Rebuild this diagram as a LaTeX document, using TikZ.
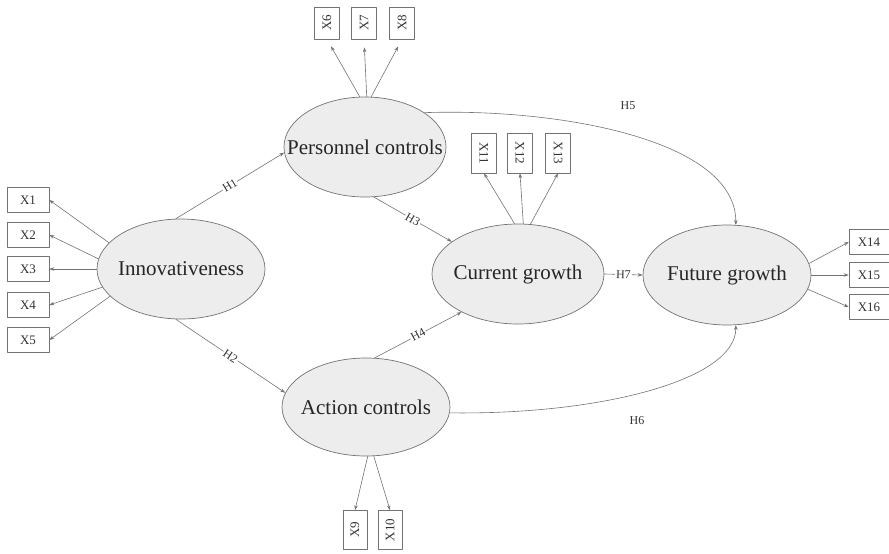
\documentclass[tikz,border=0pt]{standalone}
\usepackage{fontspec}
\setmainfont{Liberation Serif}
\usepackage{graphicx}
\usetikzlibrary{shapes.geometric,arrows.meta}
\begin{document}
\begin{tikzpicture}[x=1pt, y=-1pt, line join=round, line cap=round,
	latent/.style={ellipse, draw=black!55, fill=black!7, line width=0.7pt, inner sep=0pt, minimum width=168pt, minimum height=100pt},
	latname/.style={font=\fontsize{21}{21}\selectfont, text=black!85, inner sep=0pt},
	ind/.style={draw=black!55, fill=white, line width=0.6pt, inner sep=0pt, font=\fontsize{13}{13}\selectfont, text=black!80},
	flat/.style={ind, minimum width=42pt, minimum height=25pt},
	upright/.style={ind, minimum width=25pt, minimum height=32pt},
	link/.style={draw=black!55, line width=0.6pt, -{Stealth[length=5pt,width=3.5pt]}},
	hyp/.style={sloped, fill=white, inner sep=1pt, font=\fontsize{12}{12}\selectfont, text=black!80}]
	\useasboundingbox (0,0) rectangle (889,554);
	
	% latent variables
	\node[latent] (inno) at (181,269) {};
	\node[latent, minimum width=162pt] (pers) at (365,147) {};
	\node[latent, minimum height=98pt] (act) at (366,407) {};
	\node[latent, minimum width=172pt] (cur) at (518,274) {};
	\node[latent] (fut) at (727,275) {};
	
	\node[latname] (innot) at (inno) {Innovativeness};
	\node[latname] (perst) at (pers) {Personnel controls};
	\node[latname] (actt) at (act) {Action controls};
	\node[latname] (curt) at (cur) {Current growth};
	\node[latname] (futt) at (fut) {Future growth};
	
	% indicators
	\node[flat] (x1) at (28,200) {X1};
	\node[flat] (x2) at (28,235) {X2};
	\node[flat] (x3) at (28,269) {X3};
	\node[flat] (x4) at (28,305) {X4};
	\node[flat] (x5) at (28,340) {X5};
	
	\node[upright] (x6) at (327,23) {\rotatebox{90}{X6}};
	\node[upright] (x7) at (364,23) {\rotatebox{90}{X7}};
	\node[upright] (x8) at (402,23) {\rotatebox{90}{X8}};
	
	\node[upright, minimum width=24pt, minimum height=39pt] (x9) at (355,530) {\rotatebox{90}{X9}};
	\node[upright, minimum width=24pt, minimum height=39pt] (x10) at (390,530) {\rotatebox{90}{X10}};
	
	\node[upright, minimum height=40pt] (x11) at (484,153) {\rotatebox{-90}{X11}};
	\node[upright, minimum height=40pt] (x12) at (520,153) {\rotatebox{-90}{X12}};
	\node[upright, minimum height=40pt] (x13) at (558,153) {\rotatebox{-90}{X13}};
	
	\node[flat, minimum width=40pt] (x14) at (869,242) {X14};
	\node[flat, minimum width=40pt] (x15) at (869,275) {X15};
	\node[flat, minimum width=40pt] (x16) at (869,307) {X16};
	
	% measurement arrows
	\draw[link] (inno.160) -- (x1.east);
	\draw[link] (inno.173) -- (x2.east);
	\draw[link] (inno.180) -- (x3.east);
	\draw[link] (inno.193) -- (x4.east);
	\draw[link] (inno.201) -- (x5.east);
	
	\draw[link, shorten >=8pt] (pers.96) -- (x6.south);
	\draw[link, shorten >=8pt] (pers.88) -- (x7.south);
	\draw[link, shorten >=8pt] (pers.83) -- (x8.south);
	
	\draw[link] (act.-88) -- (x9.north);
	\draw[link] (act.-81) -- (x10.north);
	
	\draw[link] (cur.94) -- (x11.south);
	\draw[link] (cur.84) -- (x12.south);
	\draw[link] (cur.76) -- (x13.south);
	
	\draw[link] (fut.8) -- (x14.west);
	\draw[link] (fut.east) -- (x15.west);
	\draw[link] (fut.-10) -- (x16.west);
	
	% hypotheses
	\draw[link] (inno.96) -- node[hyp] (h1) {H1} (pers.184);
	\draw[link] (inno.264) -- node[hyp] (h2) {H2} (act.170);
	\draw[link] (pers.280) -- node[hyp] (h3) {H3} (cur.154);
	\draw[link] (act.80) -- node[hyp] (h4) {H4} (cur.214);
	\draw[link] (cur.east) -- node[hyp] (h7) {H7} (fut.west);
	\draw[link] (pers.30) .. controls (560,108) and (736,140) .. (fut.80);
	\draw[link] (act.-4) .. controls (600,415) and (736,380) .. (fut.-80);
	
	\node[hyp] (h5) at (628,106) {H5};
	\node[hyp] (h6) at (637,421) {H6};
\end{tikzpicture}
\end{document}
